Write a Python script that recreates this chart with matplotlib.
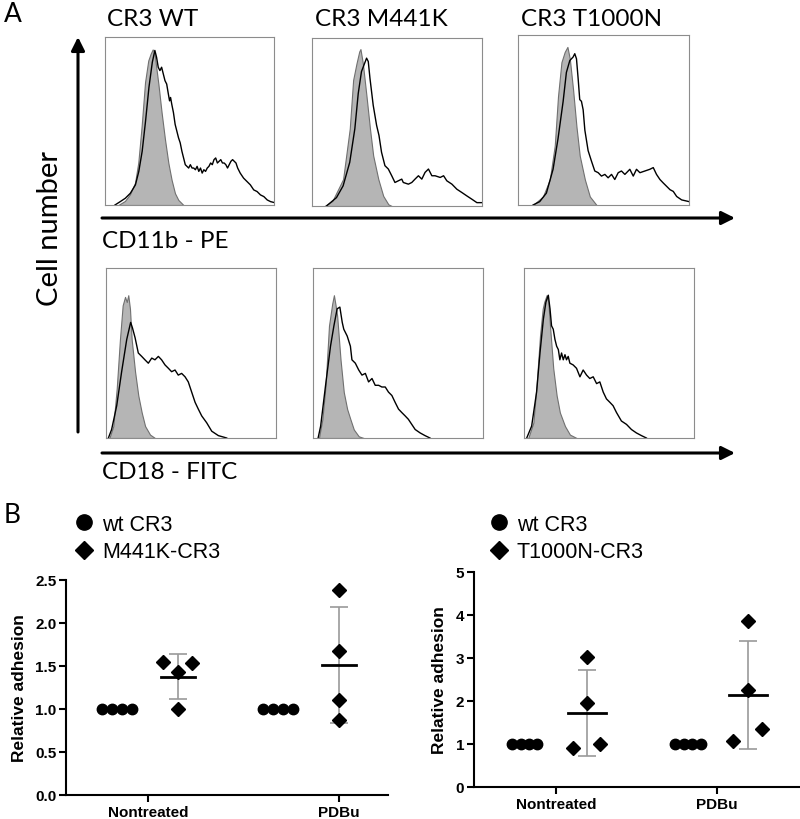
import numpy as np
import matplotlib
matplotlib.use("Agg")
import matplotlib.pyplot as plt
from matplotlib.lines import Line2D

# ---- panel A: flow cytometry histograms (x, y in % of the panel box) ----
hist_titles = ["CR3 WT", "CR3 M441K", "CR3 T1000N"]

# CD11b - PE, isotype (gray) and stained (black)
cd11b_gray = [
    ([7.9, 11.8, 14.8, 17.8, 19.7, 21.7, 23.7, 25.6, 27.0, 28.2, 29.2, 30.2, 31.6, 33.5, 35.5, 37.5, 39.4, 41.4, 43.4, 46.4],
     [0, 2.4, 6.4, 13.3, 25.3, 47.2, 73.1, 86, 90, 92.6, 91, 83, 72, 55, 39, 25, 15, 7, 3, 0]),
    ([7.5, 12.0, 18.3, 22.2, 24.2, 26.2, 27.8, 28.5, 29.9, 32.1, 34.1, 36.0, 39.0, 41.9, 44.9, 46.9],
     [0, 3, 16, 46, 75, 85, 92, 93.4, 85, 65, 46, 30, 16, 6, 1, 0]),
    ([8.8, 14.6, 18.6, 21.5, 23.4, 25.4, 27.3, 28.9, 30.3, 32.2, 34.2, 36.1, 39.1, 42.0, 45.9],
     [0, 5, 15, 35, 64, 84, 90, 93, 86, 68, 46, 29, 15, 5, 0]),
]
cd11b_black = [
    ([5.9, 9, 12, 15, 18, 20, 22, 24, 26, 28, 29.5, 30.5, 31.5, 32.5, 33.5, 34.5, 35.5, 36.5, 37.5, 38.2, 38.8,
      39.5, 40.5, 41.5, 42.5, 43.5, 44.5, 45.5, 46.5, 47.5, 48.5, 49.5, 50.5, 51.5, 52.5, 53.5, 54.5, 55.5,
      56.5, 57.5, 58.5, 59.5, 60.5, 61.5, 62.5, 63.5, 64.5, 65.5, 66.5, 67.5, 68.5, 69.5, 70.5, 71.5, 72.5,
      73.5, 74.5, 75.5, 76.5, 77.5, 78.5, 80, 82, 84, 86, 88, 90, 92, 94, 96, 98, 100],
     [0, 2, 4, 7, 12, 20, 32, 50, 70, 85, 92, 88, 82, 80, 82, 78, 74, 72, 66, 62, 64,
      60, 55, 48, 44, 40, 37, 32, 28, 24, 23, 22, 24, 22, 22, 21, 23, 20,
      22, 19, 21, 20, 22, 23, 25, 24, 27, 28, 25, 26, 27, 25, 25, 24, 22,
      24, 26, 27, 26, 25, 22, 19, 16, 14, 12, 9, 8, 6, 5, 3, 2, 1.5]),
    ([8.5, 14.4, 18.3, 22.2, 25.2, 27.2, 29.1, 32.1, 33.1, 34.1, 36.0, 38.0, 39.4, 40.9, 42.9, 44.9, 46.9,
      48.8, 50.8, 52.8, 53.7, 56.7, 58.7, 60.6, 62.6, 64.6, 66.5, 68.5, 70.5, 72.4, 75.4, 77.4, 79.3,
      82.3, 85.2, 88.2, 91.1, 94.1, 97.0, 100],
     [0, 5, 12, 26, 46, 67, 80, 88, 86, 76, 60, 48, 42, 32, 24, 22, 18,
      14, 15, 16, 14, 13, 14, 16, 18, 16, 20, 22, 18, 18, 17, 18, 15,
      13, 10, 8, 6, 4, 2, 2]),
    ([8.8, 12.7, 16.6, 20.5, 23.4, 26.4, 28.3, 30.3, 32.2, 33.2, 34.2, 35.2, 36.1, 37.1, 38.1, 39.1, 41.0,
      42.9, 44.9, 46.9, 48.8, 50.8, 52.7, 54.7, 56.6, 58.6, 60.5, 62.5, 65.4, 67.4, 69.3, 71.3, 74.2,
      77.1, 79.1, 81.0, 83.0, 84.9, 86.9, 88.9, 90.8, 92.8, 95.7, 100],
     [0, 2, 7, 21, 39, 61, 78, 85, 87, 89, 86, 74, 62, 61, 56, 44, 32,
      26, 20, 19, 17, 18, 16, 18, 15, 19, 20, 18, 21, 17, 21, 19, 20,
      21, 22, 18, 15, 13, 11, 9, 8, 5, 3, 2]),
]

# CD18 - FITC
cd18_gray = [
    ([2.0, 4.3, 6.3, 8.2, 9.8, 11.2, 12.2, 13.1, 14.1, 15.1, 17.1, 19.0, 21.0, 23.0, 25.9, 28.8],
     [0, 7, 29, 58, 78, 83, 80, 84, 76, 58, 39, 25, 15, 7, 2, 0]),
    ([3.5, 5.5, 7.4, 9.4, 11.3, 12.3, 13.3, 14.2, 16.2, 18.1, 20.1, 22.0, 24.0, 26.9, 29.8],
     [0, 11, 31, 66, 79, 84, 78, 72, 46, 27, 17, 11, 5, 1, 0]),
    ([2.5, 5.5, 7.4, 9.4, 11.0, 11.9, 13.3, 14.3, 15.3, 17.2, 19.2, 21.1, 24.1, 27.0, 30.9],
     [0, 9, 31, 60, 76, 80, 84, 80, 66, 41, 25, 15, 7, 2, 0]),
]
cd18_black = [
    ([1.4, 3.3, 6.3, 9.2, 12.2, 14.5, 15.5, 17.1, 19.0, 21.0, 22.9, 24.9, 26.9, 28.8, 30.8, 32.7, 34.7,
      36.7, 38.6, 40.6, 42.5, 44.5, 46.5, 48.4, 50.4, 52.4, 54.3, 56.3, 59.2, 62.2, 66.1, 71.0],
     [0, 5, 19, 39, 58, 68, 65, 59, 50, 48, 46, 44, 47, 46, 48, 46, 43,
      41, 39, 40, 37, 38, 36, 33, 27, 21, 17, 13, 9, 4, 1.4, 0]),
    ([3.0, 4.5, 7.4, 10.3, 12.3, 14.2, 15.8, 17.2, 18.1, 20.1, 22.0, 22.9, 24.9, 26.9, 28.8, 30.8, 32.7,
      34.7, 36.6, 38.6, 40.5, 42.5, 44.4, 46.4, 48.3, 50.3, 52.2, 54.2, 56.1, 58.1, 60.1, 63.0, 65.9, 68.8],
     [0, 7, 31, 54, 66, 76, 77, 68, 64, 60, 54, 46, 44, 40, 37, 38, 33,
      35, 31, 31, 30, 30, 27, 25, 21, 17, 15, 13, 11, 8, 5, 3, 1.4, 0]),
    ([1.6, 4.5, 7.4, 9.4, 11.4, 12.9, 14.3, 15.3, 16.2, 17.2, 18.2, 19.2, 20.2, 21.1, 22.1, 23.1, 24.1,
      25.0, 26.0, 27.0, 28.9, 30.9, 32.9, 34.8, 36.8, 38.7, 40.7, 42.7, 44.6, 46.6, 48.5, 50.5, 52.4,
      54.4, 57.3, 60.3, 63.2, 66.1, 69.1, 72.0],
     [0, 7, 27, 50, 70, 80, 84, 76, 66, 64, 58, 54, 52, 46, 50, 46, 49,
      46, 48, 44, 43, 41, 36, 40, 37, 35, 36, 32, 33, 27, 23, 21, 19,
      15, 10, 8, 5, 3, 1.4, 0]),
]

# ---- panel B: relative adhesion ----
groups = ["Nontreated", "PDBu"]
left_wt = [[1.0, 1.0, 1.0, 1.0], [1.0, 1.0, 1.0, 1.0]]
left_mut = [[1.55, 1.43, 1.53, 1.0], [2.38, 1.68, 1.11, 0.87]]
right_wt = [[1.0, 1.0, 1.0, 1.0], [1.0, 1.0, 1.0, 1.0]]
right_mut = [[0.9, 3.03, 1.95, 1.0], [1.07, 3.87, 2.25, 1.36]]
left_labels = ["wt CR3", "M441K-CR3"]
right_labels = ["wt CR3", "T1000N-CR3"]

W, H = 800, 820
fig = plt.figure(figsize=(W / 100, H / 100), dpi=100)


def rect(x0, y0, x1, y1):
    return [x0 / W, 1 - y1 / H, (x1 - x0) / W, (y1 - y0) / H]


calibri = ["Lato", "DejaVu Sans"]
arial = ["Liberation Sans", "DejaVu Sans"]

top_boxes = [(105, 38, 274, 206), (312, 39, 482, 207), (518, 36, 689, 206)]
bot_boxes = [(106, 269, 276, 439), (313, 269, 483, 439), (524, 269, 694, 439)]


def histo(box, gray, black):
    ax = fig.add_axes(rect(*box))
    ax.fill_between(gray[0], gray[1], color="#b5b5b5", edgecolor="#707070", lw=0.8)
    ax.plot(black[0], black[1], color="black", lw=1.0)
    ax.set_xlim(0, 100)
    ax.set_ylim(0, 100)
    ax.set_xticks([])
    ax.set_yticks([])
    for s in ax.spines.values():
        s.set_color("#8c8c8c")
        s.set_linewidth(0.8)
    return ax


for i in range(3):
    histo(top_boxes[i], cd11b_gray[i], cd11b_black[i])
    histo(bot_boxes[i], cd18_gray[i], cd18_black[i])

# overlay in pixel coordinates for labels and arrows
ov = fig.add_axes([0, 0, 1, 1], zorder=-1)
ov.set_xlim(0, W)
ov.set_ylim(H, 0)
ov.axis("off")

title_x = [107, 315, 521]
for t, x in zip(hist_titles, title_x):
    ov.text(x, 19, t, family=calibri, fontsize=17.5, va="center", ha="left")
ov.text(4, 15, "A", family=calibri, fontsize=19, va="center", ha="left")
ov.text(4, 516, "B", family=calibri, fontsize=19, va="center", ha="left")
ov.text(102, 241, "CD11b - PE", family=calibri, fontsize=17.5, va="center", ha="left")
ov.text(102, 473, "CD18 - FITC", family=calibri, fontsize=17.5, va="center", ha="left")
ov.text(50, 229, "Cell number", family=calibri, fontsize=21, va="center", ha="center", rotation=90)

arrow = dict(arrowstyle="-|>", lw=2.2, color="black", mutation_scale=20, shrinkA=0, shrinkB=0)
ov.annotate("", xy=(735, 219), xytext=(102, 219), arrowprops=arrow)
ov.annotate("", xy=(735, 454), xytext=(102, 454), arrowprops=arrow)
ov.annotate("", xy=(78, 38), xytext=(78, 433), arrowprops=arrow)


def scatter_panel(box, xlim, wt, mut, wt_pos, mut_pos, mut_offsets, ylim, yticks, yfmt, labels,
                  leg_anchor, half_mean, capsize):
    ax = fig.add_axes(rect(*box))
    circ_off = np.array([-1.5, -0.5, 0.5, 1.5])
    for g in range(2):
        xs_w = wt_pos[g] + circ_off * 0.052
        ax.plot(xs_w, wt[g], "o", color="black", ms=7.5, ls="none", clip_on=False, zorder=3)
        vals = np.array(mut[g])
        xs_m = mut_pos[g] + np.array(mut_offsets[g])
        ax.plot(xs_m, vals, "D", color="black", ms=7.5, ls="none", clip_on=False, zorder=3)
        m = vals.mean()
        sd = vals.std(ddof=1)
        ax.errorbar(mut_pos[g], m, yerr=sd, fmt="none", ecolor="#9a9a9a", elinewidth=1.2,
                    capsize=capsize, capthick=1.2, zorder=2)
        ax.plot([mut_pos[g] - half_mean, mut_pos[g] + half_mean], [m, m], color="black", lw=2, zorder=4)
    ax.set_xlim(*xlim)
    ax.set_ylim(*ylim)
    ax.set_yticks(yticks)
    ax.set_yticklabels([yfmt.format(v) for v in yticks])
    ax.set_xticks([0, 1])
    ax.set_xticklabels(groups)
    for s in ["top", "right"]:
        ax.spines[s].set_visible(False)
    for s in ["left", "bottom"]:
        ax.spines[s].set_linewidth(1.5)
    ax.tick_params(width=1.5, length=5, labelsize=11, pad=2)
    for lab in ax.get_xticklabels() + ax.get_yticklabels():
        lab.set_fontweight("bold")
        lab.set_family(arial)
    ax.set_ylabel("Relative adhesion", family=arial, fontweight="bold", fontsize=12.5, labelpad=6)
    handles = [Line2D([], [], marker="o", color="black", ls="none", ms=11),
               Line2D([], [], marker="D", color="black", ls="none", ms=9)]
    ax.legend(handles, labels, loc="upper left", bbox_to_anchor=leg_anchor,
              bbox_transform=fig.transFigure, frameon=False, prop={"family": arial, "size": 15.5},
              handletextpad=0.35, labelspacing=0.3, borderpad=0, handlelength=1.0)
    return ax


scatter_panel((66, 581, 388, 796), (-0.429, 1.257), left_wt, left_mut,
              [-0.162, 0.681], [0.157, 1.0], [[-0.079, 0, 0.073, 0], [0, 0, 0, 0]],
              (0, 2.5), [0, 0.5, 1.0, 1.5, 2.0, 2.5], "{:.1f}", left_labels,
              (62 / W, 1 - 504 / H), 0.089, 6.5)

scatter_panel((474, 573, 800, 788), (-0.509, 1.516), right_wt, right_mut,
              [-0.193, 0.82], [0.193, 1.193], [[-0.087, 0, 0, 0.081], [-0.093, 0, 0, 0.087]],
              (0, 5), [0, 1, 2, 3, 4, 5], "{:.0f}", right_labels,
              (477 / W, 1 - 504 / H), 0.115, 6.5)

fig.savefig("out.png", dpi=100)
